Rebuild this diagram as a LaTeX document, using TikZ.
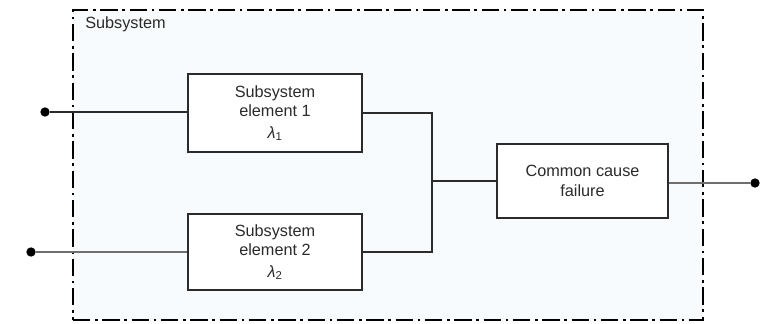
\documentclass[tikz,border=0pt]{standalone}
\usepackage{fontspec}
\setmainfont{Liberation Sans}
\definecolor{framefill}{HTML}{F7FBFD}
\definecolor{inkgray}{HTML}{2B2B2B}
\definecolor{wiregray}{HTML}{6E6E6E}
\newcommand{\rate}[1]{{\itshape λ}\textsubscript{#1}}
\tikzset{
  unit/.style={draw=inkgray, line width=1.1pt, fill=white, align=center,
    font=\fontsize{12.2}{14.5}\selectfont, text=inkgray, inner sep=0pt},
  terminal/.style={circle, fill=black, inner sep=0pt, minimum size=7pt},
  wire/.style={line width=0.9pt, draw=inkgray},
  lightwire/.style={line width=0.9pt, draw=wiregray},
  boundary/.style={draw=black, line width=2pt, fill=framefill,
    dash pattern=on 13pt off 3.5pt on 2pt off 3.5pt}
}
\begin{document}
\begin{tikzpicture}[x=0.75pt,y=-0.75pt]
\useasboundingbox (0,0) rectangle (767,324);
% subsystem boundary
\node[boundary, minimum width=630*0.75pt, minimum height=310*0.75pt, inner sep=0pt]
  (frame) at (388,165) {};
\node[anchor=west, inner sep=0pt, font=\fontsize{12.2}{14}\selectfont, text=inkgray] (title) at (85,24) {Subsystem};
% elements
\node[unit, minimum width=174*0.75pt, minimum height=78*0.75pt] (b1) at (275,113)
  {Subsystem\\element 1\\[2pt]\rate{1}};
\node[unit, minimum width=174*0.75pt, minimum height=76*0.75pt] (b2) at (275,252)
  {Subsystem\\element 2\\[2pt]\rate{2}};
\node[unit, minimum width=171*0.75pt, minimum height=74*0.75pt] (cc) at (582.5,181)
  {Common cause\\failure};
% terminals
\node[terminal] (in1) at (45,112) {};
\node[terminal] (in2) at (31,252) {};
\node[terminal] (out) at (755,183) {};
\coordinate (j) at (432,181);
% wiring
\draw[wire] (in1) -- (in1 -| b1.west);
\draw[lightwire] (in2) -- (in2 -| b2.west);
\draw[wire] (b1.east) -| (j) |- (b2.east);
\draw[wire] (j) -- (cc.west);
\draw[lightwire] (out -| cc.east) -- (out);
\end{tikzpicture}
\end{document}
